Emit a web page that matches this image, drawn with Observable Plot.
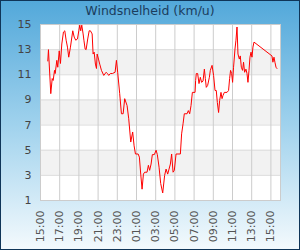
<!DOCTYPE html>
<html>
<head>
<meta charset="utf-8">
<script src="https://cdn.jsdelivr.net/npm/d3@7"></script>
<script src="https://cdn.jsdelivr.net/npm/@observablehq/plot@0.6"></script>
<style>
  body { margin: 0; }
  #wrap { position: relative; width: 300px; height: 250px; overflow: hidden;
    background: linear-gradient(to bottom, #52a8da 0%, #a0d2ed 50%, #f4fafd 100%);
    font-family: "DejaVu Sans", sans-serif; }
  #wrap svg { position: absolute; left: 0; top: 0; }
  #title { position: absolute; left: 0; top: 3px; width: 300px; text-align: center;
    font-size: 12.5px; color: #1b3d5e; }
  #border { position: absolute; left: 0; top: 0; width: 300px; height: 250px;
    box-sizing: border-box; border: 1px solid #0f3558; pointer-events: none; }
</style>
</head>
<body>
<div id="wrap"><div id="title">Windsnelheid (km/u)</div></div>
<script>
const titleText = "Windsnelheid (km/u)";
// hours after 15:00
const hours = [
  0.76,0.83,1.07,1.22,1.32,1.46,1.53,1.70,1.80,1.95,
  2.08,2.22,2.39,2.53,2.67,2.81,2.94,3.12,3.36,3.51,
  3.67,3.85,3.99,4.09,4.19,4.30,4.44,4.53,4.65,4.75,
  4.92,5.07,5.20,5.38,5.48,5.59,5.72,5.83,5.90,6.04,
  6.17,6.35,6.59,6.84,6.97,7.11,7.28,7.49,7.77,7.91,
  8.04,8.25,8.43,8.61,8.77,9.02,9.19,9.40,9.60,9.75,
  9.89,10.17,10.30,10.44,10.58,10.72,10.85,11.10,11.24,11.37,
  11.52,11.65,11.86,12.04,12.17,12.35,12.52,12.73,12.93,13.08,
  13.25,13.39,13.53,13.66,13.81,13.94,14.12,14.57,14.70,14.85,
  14.98,15.27,15.40,15.54,15.68,15.82,16.10,16.16,16.23,16.37,
  16.51,16.65,16.78,16.93,17.07,17.17,17.27,17.41,17.59,17.69,
  17.87,18.03,18.18,18.31,18.42,18.55,18.66,18.80,18.91,19.01,
  19.15,19.43,19.59,19.70,19.80,19.91,20.01,20.11,20.26,20.36,
  20.47,20.57,20.71,20.81,20.92,21.05,21.15,21.26,21.40,21.51,
  21.61,21.72,21.82,21.93,22.03,22.13,22.24,24.11,24.21,24.32,
  24.42,24.53,24.63
];
const speed = [
  12.1,13.0,9.5,10.7,10.55,11.35,11.1,12.15,11.6,12.9,
  11.9,13.45,14.4,14.5,13.75,13.2,12.4,13.2,14.5,14.0,
  13.75,13.85,14.5,14.95,14.5,14.95,14.25,13.7,13.05,13.0,
  13.85,14.5,14.5,14.25,12.65,12.8,11.85,11.5,12.65,12.25,
  11.85,11.35,10.95,11.2,11.1,10.95,11.1,11.1,11.2,12.15,
  11.2,9.5,7.9,7.9,9.1,8.55,7.5,5.65,6.45,5.35,
  4.7,4.7,4.45,3.1,1.9,3.1,3.25,3.25,3.8,3.4,
  3.9,4.65,4.65,5.0,4.65,3.65,2.35,1.6,3.0,3.5,
  3.1,3.5,3.9,4.7,3.25,3.4,4.7,4.7,6.3,7.1,
  7.9,7.9,8.15,7.9,8.55,9.6,9.6,10.55,11.1,11.1,
  10.3,10.8,10.4,10.5,11.45,10.7,10.0,10.15,10.8,11.35,
  11.75,10.95,9.75,9.75,8.8,8.0,8.95,9.6,9.1,9.35,
  9.6,9.6,9.75,10.7,11.35,11.1,10.4,11.6,13.05,13.75,
  14.8,12.65,12.25,12.5,11.6,11.35,12.0,11.2,11.45,11.1,
  10.4,11.35,12.4,12.8,12.4,13.2,13.6,12.5,12.0,12.4,
  12.0,11.6,11.5
];
const xTicks = [0,2,4,6,8,10,12,14,16,18,20,22,24];
const xLabels = ["15:00","17:00","19:00","21:00","23:00","01:00","03:00","05:00","07:00","09:00","11:00","13:00","15:00"];
const yTicks = [1,3,5,7,9,11,13,15];
const bandLo = [11,7,3];
const bandHi = [13,9,5];

const data = hours.map((h, i) => ({h, v: speed[i]}));
const bands = bandLo.map((lo, i) => ({lo, hi: bandHi[i]}));

const chart = Plot.plot({
  width: 300, height: 250,
  marginLeft: 40, marginRight: 20, marginTop: 24, marginBottom: 50,
  style: {background: "transparent", fontFamily: "DejaVu Sans, sans-serif"},
  x: {domain: [0, 25]},
  y: {domain: [1, 15]},
  marks: [
    Plot.frame({fill: "white", stroke: null}),
    Plot.rect(bands, {y1: "lo", y2: "hi", fill: "#f2f2f2"}),
    Plot.gridY(yTicks, {stroke: "#dcdcdc", strokeOpacity: 1}),
    Plot.gridX(xTicks, {stroke: "#cccccc", strokeOpacity: 1}),
    Plot.frame({stroke: "#cccccc"}),
    Plot.line(data, {x: "h", y: "v", stroke: "#ff0000", strokeWidth: 1}),
    Plot.axisY(yTicks, {tickSize: 0, tickPadding: 9, fontSize: 11, fill: "#444", label: null}),
    Plot.axisX(xTicks, {tickSize: 0, tickPadding: 10, tickRotate: -90, fontSize: 11, fill: "#555", label: null,
      tickFormat: d => xLabels[xTicks.indexOf(d)]})
  ]
});
const wrap = document.getElementById("wrap");
wrap.insertBefore(chart, wrap.firstChild);
document.getElementById("title").textContent = titleText;
const b = document.createElement("div"); b.id = "border"; wrap.appendChild(b);
</script>
</body>
</html>
